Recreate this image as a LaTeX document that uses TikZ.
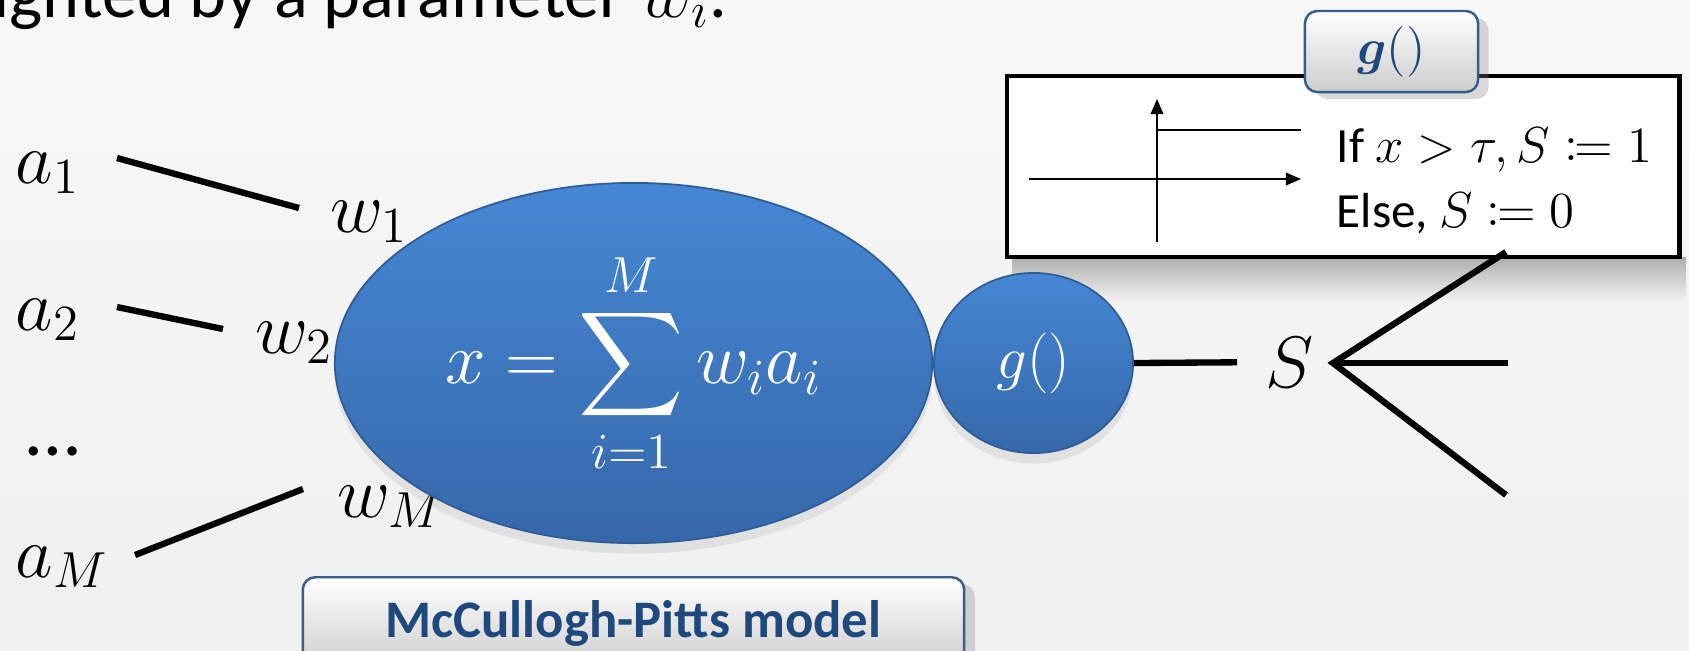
\documentclass[tikz,border=0pt]{standalone}
\usepackage{mathtools}
\usepackage{fontspec}
\setmainfont{Carlito}
\usetikzlibrary{positioning,arrows.meta,shapes.geometric,shadows}

\definecolor{slidebg}{RGB}{243,243,243}
\definecolor{neuronhi}{RGB}{70,135,212}
\definecolor{neuronlo}{RGB}{54,104,170}
\definecolor{neuronrim}{RGB}{48,92,150}
\definecolor{titleblue}{RGB}{31,73,125}
\definecolor{tagrim}{RGB}{56,93,138}

\begin{document}
\begin{tikzpicture}[
  x=0.01cm, y=-0.01cm,
  lbl/.style={font=\fontsize{22}{26}\selectfont, inner sep=0pt},
  wire/.style={line width=1.8pt},
  neuron/.style={ellipse, inner sep=0pt, top color=neuronhi, bottom color=neuronlo,
    draw=neuronrim, line width=0.5pt, text=white,
    drop shadow={opacity=0.15, shadow xshift=0pt, shadow yshift=-3pt}},
  tagbox/.style={draw=tagrim, line width=0.7pt, rounded corners=3.5pt, inner sep=0pt,
    top color=white, bottom color=black!20, text=titleblue,
    drop shadow={opacity=0.3, shadow xshift=3pt, shadow yshift=-2pt}},
  axisarrow/.style={line width=0.45pt, -{Triangle[length=4.3pt, width=3.6pt]}}
]
  % Slide background
  \useasboundingbox (0,0) rectangle (1689,650);
  \clip (0,0) rectangle (1689,650);
  \shade[top color=black!3, bottom color=black!6] (0,0) rectangle (1689,650);

  % Cut-off line of the slide text
  \node[font=\fontsize{20}{24}\selectfont, anchor=base west, inner sep=0pt] (headline)
    at (-7,17) {ighted by a parameter $w_i$.};

  % Threshold box
  \shade[top color=black!32, bottom color=slidebg] (1012,257) rectangle (1686,302);
  \node[draw, line width=1.3pt, fill=white, inner sep=0pt,
    minimum width=6.72cm, minimum height=1.81cm] (gbox) at (1343,166.5) {};
  \draw[axisarrow] (1029,179) -- (1301,179);
  \draw[axisarrow] (1157,242) -- (1157,99);
  \draw[line width=0.45pt] (1157,130) -- (1301,130);
  \node[font=\fontsize{14}{17}\selectfont, anchor=base west, inner sep=0pt] (ruleif)
    at (1336,162) {If $x>\tau, S\coloneqq 1$};
  \node[font=\fontsize{14}{17}\selectfont, anchor=base west, inner sep=0pt] (ruleelse)
    at (1336,227) {Else, $S\coloneqq 0$};
  \node[tagbox, minimum width=1.73cm, minimum height=0.81cm,
    font=\fontsize{15}{18}\selectfont] (gtag) at (1391.5,51.5) {$\boldsymbol{g}()$};

  % Inputs and weights
  \foreach \nm/\txt/\yy in {a1/a_1/183, a2/a_2/330, aM/a_M/577}
    \node[lbl, anchor=base west] (\nm) at (15,\yy) {$\txt$};
  \node[lbl, anchor=base west] (dots) at (26,455) {\ldots};

  \foreach \nm/\txt/\xx/\yy in {w1/w_1/330/232, w2/w_2/255/353, wM/w_M/337/517}
    \node[lbl, anchor=base west] (\nm) at (\xx,\yy) {$\txt$};

  \coordinate (a1out) at (117,158);  \coordinate (w1in) at (299,208);
  \coordinate (a2out) at (117,307);  \coordinate (w2in) at (223,329);
  \coordinate (aMout) at (135,555);  \coordinate (wMin) at (303,489);
  \foreach \n in {1,2,M}
    \draw[wire] (a\n out) -- (w\n in);

  % Summation and activation
  \node[neuron, minimum width=5.97cm, minimum height=3.6cm,
    font=\fontsize{20}{24}\selectfont] (sum) at (633.5,363)
    {$\displaystyle x=\sum_{i=1}^{M} w_i a_i$};
  \node[neuron, minimum width=1.99cm, minimum height=1.8cm,
    font=\fontsize{17}{20}\selectfont, right=0pt of sum] (act) {$g()$};

  % Output
  \node[font=\fontsize{20}{24}\selectfont, inner sep=0pt, anchor=base west] (S)
    at (1265,387) {$S$};
  \draw[wire, shorten >=0.28cm] (act.east) -- (S.west);

  % Fan-out of the output
  \coordinate (fan) at (1333,363);
  \coordinate (fanup) at (1506,252);
  \coordinate (fanmid) at (1508,363);
  \coordinate (fandown) at (1506,495);
  \draw[wire] (fanup) -- (fan) -- (fandown);
  \draw[wire] (fan) -- (fanmid);

  % Model name
  \node[tagbox, minimum width=6.61cm, minimum height=0.92cm,
    font=\bfseries\fontsize{15}{18}\selectfont, below=0.32cm of sum] (model)
    {McCullogh-Pitts model};
\end{tikzpicture}
\end{document}
